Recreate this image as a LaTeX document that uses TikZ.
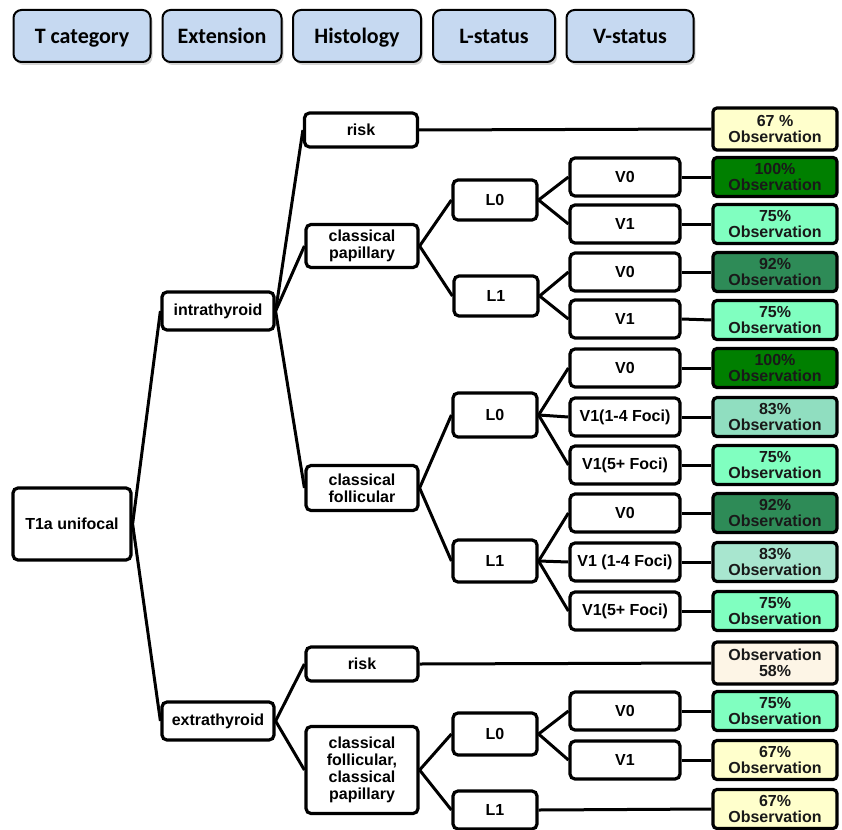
\documentclass[tikz,border=0pt]{standalone}
\usepackage{fontspec}
\setmainfont{Liberation Sans}
\newfontfamily\hdrfont{Carlito}
\usetikzlibrary{shadows}
\definecolor{hdrblue}{HTML}{C6D9F1}
\definecolor{cyel}{HTML}{FFFFCC}
\definecolor{cgreen}{HTML}{007F00}
\definecolor{caqua}{HTML}{80FFC0}
\definecolor{csea}{HTML}{2E8B57}
\definecolor{cmidA}{HTML}{90DEC0}
\definecolor{cmidB}{HTML}{A8E6CF}
\definecolor{clace}{HTML}{FDF5E6}
\tikzset{
  hdr/.style={draw, line width=2pt, rounded corners=8pt, fill=hdrblue, inner sep=0,
    minimum height=52pt, text height=18pt, text depth=2pt,
    font=\hdrfont\bfseries\fontsize{22}{24}\selectfont,
    drop shadow={shadow xshift=2pt, shadow yshift=-3pt, opacity=0.35}},
  tn/.style={draw, line width=3.2pt, rounded corners=5pt, fill=white, inner sep=0,
    align=center, font=\bfseries\fontsize{16}{17}\selectfont},
  res/.style={draw, line width=3.2pt, rounded corners=4pt, inner sep=0, align=center,
    minimum width=124pt, minimum height=39pt, text=black!90,
    font=\bfseries\fontsize{16}{16.5}\selectfont},
  vn/.style={tn, minimum width=110pt, minimum height=38pt},
  ln/.style={tn, minimum width=84pt, minimum height=40pt},
  con/.style={line width=3pt},
}
\begin{document}
\begin{tikzpicture}[x=1pt,y=-1pt]
\useasboundingbox (0,0) rectangle (842,829);
% header
\node[hdr, minimum width=137pt] (h1) at (82,36) {T category};
\node[hdr, minimum width=119pt] (h2) at (222,36) {Extension};
\node[hdr, minimum width=128pt] (h3) at (357,36) {Histology};
\node[hdr, minimum width=122pt] (h4) at (494,36) {L-status};
\node[hdr, minimum width=127pt] (h5) at (630,36) {V-status};
% tree
\node[tn, minimum width=118pt, minimum height=72pt] (t1a) at (72,524) {T1a unifocal};
\node[tn, minimum width=112pt, minimum height=38pt] (intra) at (218,311) {intrathyroid};
\node[tn, minimum width=112pt, minimum height=38pt] (extra) at (218,721) {extrathyroid};
\node[tn, minimum width=113pt, minimum height=34pt] (riskA) at (361,130) {risk};
\node[tn, minimum width=112pt, minimum height=43pt] (cpap) at (362,246) {classical\\papillary};
\node[tn, minimum width=112pt, minimum height=45pt] (cfol) at (362,488) {classical\\follicular};
\node[tn, minimum width=112pt, minimum height=34pt] (riskB) at (362,664) {risk};
\node[tn, minimum width=112pt, minimum height=87pt] (cfcp) at (362,770) {classical\\follicular,\\classical\\papillary};
\node[ln] (l0a) at (495,200) {L0};
\node[ln] (l1a) at (496,296) {L1};
\node[ln, minimum height=44pt] (l0b) at (495,415) {L0};
\node[ln, minimum height=42pt] (l1b) at (495,561) {L1};
\node[ln, minimum height=42pt] (l0c) at (495,734) {L0};
\node[ln, minimum height=38pt] (l1c) at (495,810) {L1};
% V nodes
\node[vn] (v1) at (625,177) {V0};
\node[vn] (v2) at (625,224) {V1};
\node[vn] (v3) at (625,272) {V0};
\node[vn] (v4) at (625,319) {V1};
\node[vn] (v5) at (625,368) {V0};
\node[vn] (v6) at (625,417) {V1(1-4 Foci)};
\node[vn] (v7) at (625,465) {V1(5+ Foci)};
\node[vn] (v8) at (625,513) {V0};
\node[vn] (v9) at (625,562) {V1 (1-4 Foci)};
\node[vn] (v10) at (625,611) {V1(5+ Foci)};
\node[vn] (v11) at (625,711) {V0};
\node[vn] (v12) at (625,760) {V1};
% results
\node[res, fill=cyel, minimum height=42pt] (r1) at (775,129) {67 \%\\Observation};
\node[res, fill=cgreen] (r2) at (775,177) {100\%\\Observation};
\node[res, fill=caqua] (r3) at (775,224) {75\%\\Observation};
\node[res, fill=csea] (r4) at (775,272) {92\%\\Observation};
\node[res, fill=caqua] (r5) at (775,320) {75\%\\Observation};
\node[res, fill=cgreen] (r6) at (775,368) {100\%\\Observation};
\node[res, fill=cmidA] (r7) at (775,417) {83\%\\Observation};
\node[res, fill=caqua] (r8) at (775,465) {75\%\\Observation};
\node[res, fill=csea] (r9) at (775,513) {92\%\\Observation};
\node[res, fill=cmidB] (r10) at (775,562) {83\%\\Observation};
\node[res, fill=caqua] (r11) at (775,611) {75\%\\Observation};
\node[res, fill=clace, minimum height=42pt] (r12) at (775,663) {Observation\\58\%};
\node[res, fill=caqua] (r13) at (775,711) {75\%\\Observation};
\node[res, fill=cyel] (r14) at (775,760) {67\%\\Observation};
\node[res, fill=cyel] (r15) at (775,809) {67\%\\Observation};
% connectors
\foreach \a/\b in {t1a/intra, t1a/extra, intra/riskA, intra/cpap, intra/cfol,
  extra/riskB, extra/cfcp, cpap/l0a, cpap/l1a, cfol/l0b, cfol/l1b, cfcp/l0c, cfcp/l1c,
  l0a/v1, l0a/v2, l1a/v3, l1a/v4, l0b/v5, l0b/v6, l0b/v7, l1b/v8, l1b/v9, l1b/v10,
  l0c/v11, l0c/v12, riskA/r1, riskB/r12, l1c/r15,
  v1/r2, v2/r3, v3/r4, v4/r5, v5/r6, v6/r7, v7/r8, v8/r9, v9/r10, v10/r11, v11/r13, v12/r14}
  \draw[con] (\a.east) -- (\b.west);
\end{tikzpicture}
\end{document}
